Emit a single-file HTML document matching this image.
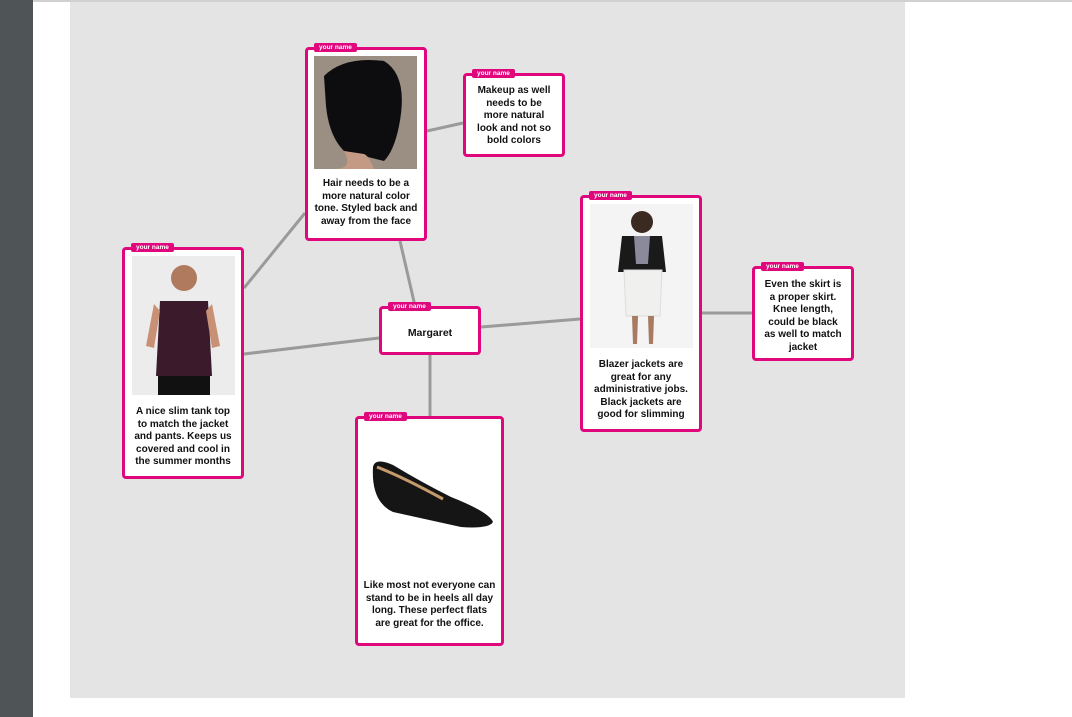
<!DOCTYPE html>
<html><head><style>
body{margin:0;width:1072px;height:717px;overflow:hidden;background:#fff;position:relative;font-family:"Liberation Sans",sans-serif}
.side{position:absolute;left:0;top:0;width:33px;height:717px;background:#4f5457}
.top{position:absolute;left:33px;top:0;width:1039px;height:2px;background:#d0d0d0}
.canvas{position:absolute;left:70px;top:2px;width:835px;height:696px;background:#e4e4e4}
.n{position:absolute;box-sizing:border-box;border:3px solid #e0077d;border-radius:4px;background:#fff;text-align:center;font-weight:bold;font-size:10px;line-height:12.5px;color:#111}
.tag{position:absolute;left:6px;top:-7px;background:#e0077d;color:#fff;font-size:6.5px;line-height:9px;padding:0 5px;border-radius:2px;font-weight:bold}
.img{position:absolute}
.t{position:absolute;left:0;right:0}
svg.l{position:absolute;left:0;top:0}
</style></head><body>
<div class="side"></div><div class="top"></div><div class="canvas"></div>
<svg class="l" width="1072" height="717"><g stroke="#9a9a9a" stroke-width="3">
<line x1="415" y1="306" x2="400" y2="241"/><line x1="427" y1="131" x2="463" y2="123"/>
<line x1="244" y1="288" x2="305" y2="213"/><line x1="244" y1="354" x2="379" y2="338"/>
<line x1="481" y1="327" x2="580" y2="319"/><line x1="702" y1="313" x2="752" y2="313"/>
<line x1="430" y1="355" x2="430" y2="416"/></g></svg>

<div class="n" style="left:305px;top:47px;width:122px;height:194px"><div class="tag">your name</div>
<svg class="img" style="left:6px;top:6px" width="103" height="113"><rect width="103" height="113" fill="#9a8f82"/><path d="M10 20 Q30 0 70 5 Q95 20 85 70 Q80 95 70 105 L30 95 Q15 80 12 50Z" fill="#0d0d10"/><path d="M30 95 Q40 113 20 113 L60 113 Q55 100 50 98Z" fill="#c49a85"/></svg>
<div class="t" style="top:128px">Hair needs to be a<br>more natural color<br>tone. Styled back and<br>away from the face</div></div>

<div class="n" style="left:463px;top:73px;width:102px;height:84px"><div class="tag">your name</div>
<div class="t" style="top:9px">Makeup as well<br>needs to be<br>more natural<br>look and not so<br>bold colors</div></div>

<div class="n" style="left:122px;top:247px;width:122px;height:232px"><div class="tag">your name</div>
<svg class="img" style="left:7px;top:6px" width="103" height="139"><rect width="103" height="139" fill="#ececec"/><circle cx="52" cy="22" r="13" fill="#b07a5e"/><path d="M28 45 L76 45 L80 120 L24 120Z" fill="#3b1a2c"/><path d="M26 120 L78 120 L78 139 L26 139Z" fill="#111"/><path d="M22 48 L14 90 L22 92 L28 55Z M80 48 L88 90 L80 92 L74 55Z" fill="#c89074"/></svg>
<div class="t" style="top:156px">A nice slim tank top<br>to match the jacket<br>and pants. Keeps us<br>covered and cool in<br>the summer months</div></div>

<div class="n" style="left:379px;top:306px;width:102px;height:49px"><div class="tag">your name</div>
<div class="t" style="top:18px;font-size:10.5px">Margaret</div></div>

<div class="n" style="left:580px;top:195px;width:122px;height:237px"><div class="tag">your name</div>
<svg class="img" style="left:7px;top:6px" width="103" height="144"><rect width="103" height="144" fill="#f4f4f4"/><circle cx="52" cy="18" r="11" fill="#3a2a22"/><path d="M32 32 L72 32 L76 68 L28 68Z" fill="#1a1a1a"/><path d="M44 32 L60 32 L58 60 L46 60Z" fill="#8a8a9a"/><path d="M34 66 L72 66 L70 112 L36 112Z" fill="#f0f0ee" stroke="#ddd"/><path d="M42 112 L48 112 L47 140 L43 140Z M58 112 L64 112 L63 140 L59 140Z" fill="#a87a60"/></svg>
<div class="t" style="top:161px">Blazer jackets are<br>great for any<br>administrative jobs.<br>Black jackets are<br>good for slimming</div></div>

<div class="n" style="left:752px;top:266px;width:102px;height:95px"><div class="tag">your name</div>
<div class="t" style="top:10px">Even the skirt is<br>a proper skirt.<br>Knee length,<br>could be black<br>as well to match<br>jacket</div></div>

<div class="n" style="left:355px;top:416px;width:149px;height:230px"><div class="tag">your name</div>
<svg class="img" style="left:3px;top:8px" width="136" height="145"><rect width="136" height="145" fill="#fff"/><path d="M12 40 Q14 30 32 38 Q60 55 90 70 Q128 85 132 95 Q128 102 100 100 L32 85 Q10 75 12 40Z" fill="#151515"/><path d="M16 40 Q42 50 82 72" stroke="#c69a6a" stroke-width="3" fill="none"/></svg>
<div class="t" style="top:161px">Like most not everyone can<br>stand to be in heels all day<br>long. These perfect flats<br>are great for the office.</div></div>
</body></html>
